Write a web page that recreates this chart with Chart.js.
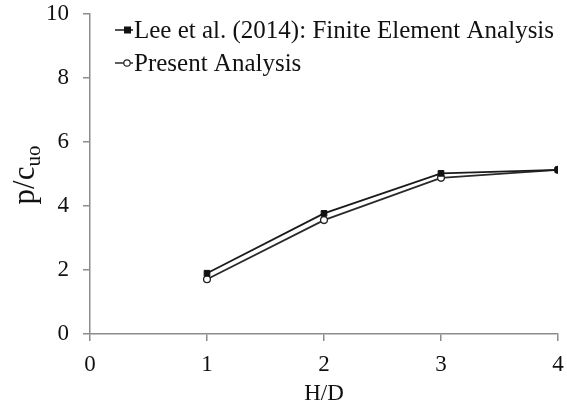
<!DOCTYPE html>
<html>
<head>
<meta charset="utf-8">
<script src="https://cdn.jsdelivr.net/npm/chart.js@4.4.1/dist/chart.umd.min.js"></script>
<style>
  html, body { margin: 0; padding: 0; background: #fff; }
  #wrap { width: 567px; height: 408px; }
</style>
</head>
<body>
<div id="wrap"><canvas id="chart"></canvas></div>
<script>
// data
const hdRatio = [1, 2, 3, 4];
const leeFEA = [1.9, 3.77, 5.02, 5.13];
const presentAnalysis = [1.71, 3.56, 4.88, 5.13];
const xTicks = [0, 1, 2, 3, 4];
const yTicks = [0, 2, 4, 6, 8, 10];

const serif = "'Liberation Serif', 'DejaVu Serif', serif";
const axisGray = '#8c8c8c';

// legend drawn inside the plot, top left, with a short line + marker
const insideLegend = {
    id: 'insideLegend',
    afterDraw(chart) {
        const ctx = chart.ctx;
        const rows = [
            { text: 'Lee et al. (2014): Finite Element Analysis', ds: chart.data.datasets[0], y: 30 },
            { text: 'Present Analysis', ds: chart.data.datasets[1], y: 63 }
        ];
        ctx.save();
        rows.forEach(r => {
            ctx.strokeStyle = r.ds.borderColor;
            ctx.lineWidth = 1.5;
            ctx.beginPath();
            ctx.moveTo(115, r.y);
            ctx.lineTo(133, r.y);
            ctx.stroke();
            ctx.fillStyle = r.ds.pointBackgroundColor;
            ctx.strokeStyle = r.ds.pointBorderColor;
            ctx.lineWidth = 1.2;
            if (r.ds.pointStyle === 'rect') {
                ctx.fillRect(124, r.y - 3.5, 7, 7);
            } else {
                ctx.beginPath();
                ctx.arc(127, r.y, 3.2, 0, Math.PI * 2);
                ctx.fill();
                ctx.stroke();
            }
            ctx.fillStyle = '#111';
            ctx.font = '25px ' + serif;
            ctx.textBaseline = 'middle';
            ctx.textAlign = 'left';
            ctx.fillText(r.text, 134, r.y + 1);
        });
        ctx.restore();
    }
};

// y axis title p/c with subscript uo
const yTitle = {
    id: 'yTitle',
    afterDraw(chart) {
        const ctx = chart.ctx;
        ctx.save();
        ctx.translate(34, 175);
        ctx.rotate(-Math.PI / 2);
        ctx.fillStyle = '#111';
        ctx.textBaseline = 'alphabetic';
        ctx.font = '31px ' + serif;
        const main = 'p/c';
        const wMain = ctx.measureText(main).width;
        ctx.font = '21px ' + serif;
        const wSub = ctx.measureText('uo').width;
        const start = -(wMain + wSub) / 2;
        ctx.font = '31px ' + serif;
        ctx.fillText(main, start, 0);
        ctx.font = '21px ' + serif;
        ctx.fillText('uo', start + wMain, 6);
        ctx.restore();
    }
};

const ctx = document.getElementById('chart').getContext('2d');

const chart = new Chart(ctx, {
    type: 'line',
    data: {
        datasets: [{
            label: 'Lee et al. (2014): Finite Element Analysis',
            data: hdRatio.map((x, i) => ({ x: x, y: leeFEA[i] })),
            borderColor: '#1a1a1a',
            borderWidth: 1.8,
            pointStyle: 'rect',
            pointRadius: 4,
            pointBackgroundColor: '#111',
            pointBorderColor: '#111',
            pointBorderWidth: 1,
            tension: 0
        }, {
            label: 'Present Analysis',
            data: hdRatio.map((x, i) => ({ x: x, y: presentAnalysis[i] })),
            borderColor: '#2a2a2a',
            borderWidth: 1.8,
            pointStyle: 'circle',
            pointRadius: 3.4,
            pointBackgroundColor: '#fff',
            pointBorderColor: '#222',
            pointBorderWidth: 1.3,
            tension: 0
        }]
    },
    options: {
        responsive: true,
        maintainAspectRatio: false,
        animation: false,
        layout: { padding: { top: 14, right: 9, left: 0, bottom: 0 } },
        plugins: {
            legend: { display: false },
            tooltip: { enabled: false }
        },
        scales: {
            x: {
                type: 'linear',
                min: 0,
                max: 4,
                afterBuildTicks: axis => { axis.ticks = xTicks.map(v => ({ value: v })); },
                afterFit: axis => {
                    axis.height = 74;
                    axis.paddingRight = 0;
                    axis.paddingLeft = 0;
                },
                border: { color: axisGray, width: 1.5 },
                grid: { drawOnChartArea: false, color: axisGray, lineWidth: 1.5, tickLength: 7 },
                ticks: { color: '#111', font: { family: serif, size: 23 }, padding: 10 },
                title: {
                    display: true,
                    text: 'H/D',
                    color: '#111',
                    font: { family: serif, size: 23 },
                    padding: { top: 0, bottom: 0 }
                }
            },
            y: {
                min: 0,
                max: 10,
                afterBuildTicks: axis => { axis.ticks = yTicks.map(v => ({ value: v })); },
                afterFit: axis => {
                    axis.width = 90;
                    axis.paddingTop = 0;
                    axis.paddingBottom = 0;
                },
                border: { color: axisGray, width: 1.5 },
                grid: { drawOnChartArea: false, color: axisGray, lineWidth: 1.5, tickLength: 7 },
                ticks: { color: '#111', font: { family: serif, size: 23 }, padding: 14 }
            }
        }
    },
    plugins: [insideLegend, yTitle]
});
</script>
</body>
</html>
